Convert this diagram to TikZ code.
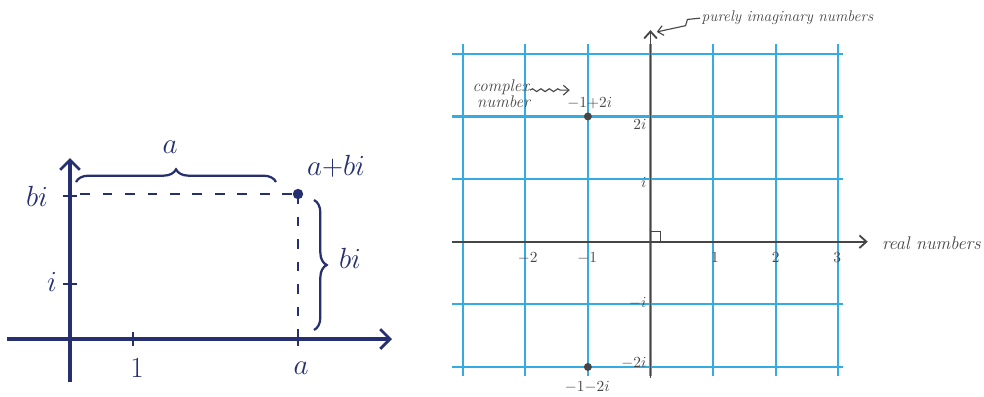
\documentclass[tikz,border=0pt]{standalone}
\usepackage{amsmath}
\usepackage{amssymb}
\usepackage{tikz}
\usetikzlibrary{decorations.pathreplacing}
\usetikzlibrary{decorations.pathmorphing}
\usetikzlibrary{positioning, arrows.meta, calc}
\definecolor{inkblue}{RGB}{38,48,112}
\definecolor{gridblue}{RGB}{52,172,226}
\definecolor{pencil}{RGB}{70,70,70}
\tikzset{
  inkaxis/.style={inkblue, line width=2.2pt, -{Straight Barb[length=7pt,width=14pt,line width=2pt]}},
  inktick/.style={inkblue, line width=1.8pt},
  inkdash/.style={inkblue, line width=2pt, dash pattern=on 7pt off 9pt},
  inkbrace/.style={inkblue, line width=1.6pt, decorate, decoration={brace, amplitude=9pt}},
  inklabel/.style={text=inkblue, font=\fontsize{20}{24}\selectfont, inner sep=1pt},
  gridline/.style={gridblue, line width=1.5pt},
  pencilaxis/.style={pencil, line width=1.3pt, -{Straight Barb[length=5pt,width=9pt]}},
  pencillabel/.style={text=pencil, font=\fontsize{11}{12}\selectfont, inner sep=1pt},
  pencilnote/.style={text=pencil, font=\fontsize{11}{11}\selectfont\itshape, inner sep=1pt},
  pencilarrow/.style={pencil, line width=0.8pt, -{Straight Barb[length=4pt,width=7pt]}}
}
\newcommand{\arganddots}{
    % Puntos marcados en el plano
    \fill[pencil] (-1,2) circle (0.1cm) coordinate (zA);
    \fill[pencil] (-1,-2) circle (0.1cm) coordinate (zB);
    \node[pencillabel] (zAlab) at (-0.97,2.22) {$-1{+}2i$};
    \node[pencillabel] (zBlab) at (-1.01,-2.32) {$-1{-}2i$};
}

\begin{document}
\begin{tikzpicture}[x=0.025cm, y=-0.025cm]
            \useasboundingbox (0,0) rectangle (984,396);

            % 1. Esquema a mano: a+bi
            \coordinate (O) at (70,339);
            \coordinate (xL) at (7,339);
            \coordinate (xR) at (392,339);
            \coordinate (yB) at (70,382);
            \coordinate (yT) at (70,158);
            \coordinate (P) at (298,194);

            \draw[inkaxis] (xL) -- (xR);
            \draw[inkaxis] (yB) -- (yT);

            % Marcas sobre los ejes
            \foreach \x in {133, 298} {
                \draw[inktick] (\x,332) -- (\x,346);
            }
            \foreach \y in {196, 284} {
                \draw[inktick] (63,\y) -- (77,\y);
            }

            % Lineas punteadas hasta el punto
            \draw[inkdash] ($(O|-P)+(10,0)$) -- (P);
            \draw[inkdash] (P) -- (P|-O);
            \fill[inkblue] (P) circle (0.13cm);

            % Llaves
            \draw[inkbrace] (76,182) -- (276,182);
            \draw[inkbrace] (314,200) -- (314,330);

            % Etiquetas
            \node[inklabel] (labA) at (170,147) {$a$};
            \node[inklabel] (labAbi) at (336,166) {$a{+}bi$};
            \node[inklabel] (labBiR) at (350,258) {$bi$};
            \node[inklabel] (labBi) at (37,196) {$bi$};
            \node[inklabel] (labI) at (52,282) {$i$};
            \node[inklabel] (labOne) at (137,368) {$1$};
            \node[inklabel] (labAx) at (301,368) {$a$};

            % 2. Plano complejo sobre papel cuadriculado
            \begin{scope}[shift={(650.5,241.7)}, x=1.565cm, y=1.565cm]
                \foreach \gx in {-3,...,3} {
                    \draw[gridline] (\gx,-2.15) -- (\gx,3.16);
                }
                \foreach \gy in {-2,...,3} {
                    \draw[gridline] (-3.17,\gy) -- (3.08,\gy);
                }

                % Ejes
                \coordinate (reL) at (-3.17,0);
                \coordinate (reR) at (3.47,0);
                \coordinate (imB) at (0,-2.18);
                \coordinate (imT) at (0,3.38);
                \draw[pencilaxis] (reL) -- (reR);
                \draw[pencilaxis] (imB) -- (imT);
                \draw[pencil, line width=0.7pt] (0,0.16) -- (0.16,0.16) -- (0.16,0); % angulo recto

                % Numeros sobre el eje real
                \foreach \gx/\lab in {-1.96/-2, -1.01/-1, 1.03/1, 2.0/2, 2.98/3} {
                    \node[pencillabel] at (\gx,-0.26) {$\lab$};
                }

                % Numeros sobre el eje imaginario
                \foreach \gy/\lab in {1.88/2i, 0.94/i, -0.98/-i, -1.94/-2i} {
                    \node[pencillabel, anchor=east] at (-0.04,\gy) {$\lab$};
                }

                \arganddots

                % Notas
                \node[pencilnote, font=\fontsize{13}{13}\selectfont\itshape, anchor=west] (realnum) at (3.67,-0.03) {real numbers};
                \node[pencilnote, anchor=west] (purelyim) at (0.79,3.57) {purely imaginary numbers};
                \node[pencilnote, font=\fontsize{12}{12}\selectfont\itshape, inner sep=0.3pt] (cplx) at (-2.39,2.47) {complex};
                \node[pencilnote, font=\fontsize{12}{12}\selectfont\itshape, inner sep=0.3pt, below=0pt of cplx, xshift=2pt] (cplxb) {number};

                \coordinate (cplxtip) at (-1.29,2.42);
                \coordinate (imtip) at (0.1,3.35);
                \draw[pencilarrow, decorate, decoration={snake, amplitude=1pt, segment length=6pt, post length=4pt}] (cplx.east|-cplxtip) -- (cplxtip);
                \draw[pencilarrow] (purelyim.west) -- ++(-0.2,-0.02) -- ++(-0.03,-0.1) -- (imtip);
            \end{scope}

        \end{tikzpicture}
\end{document}
